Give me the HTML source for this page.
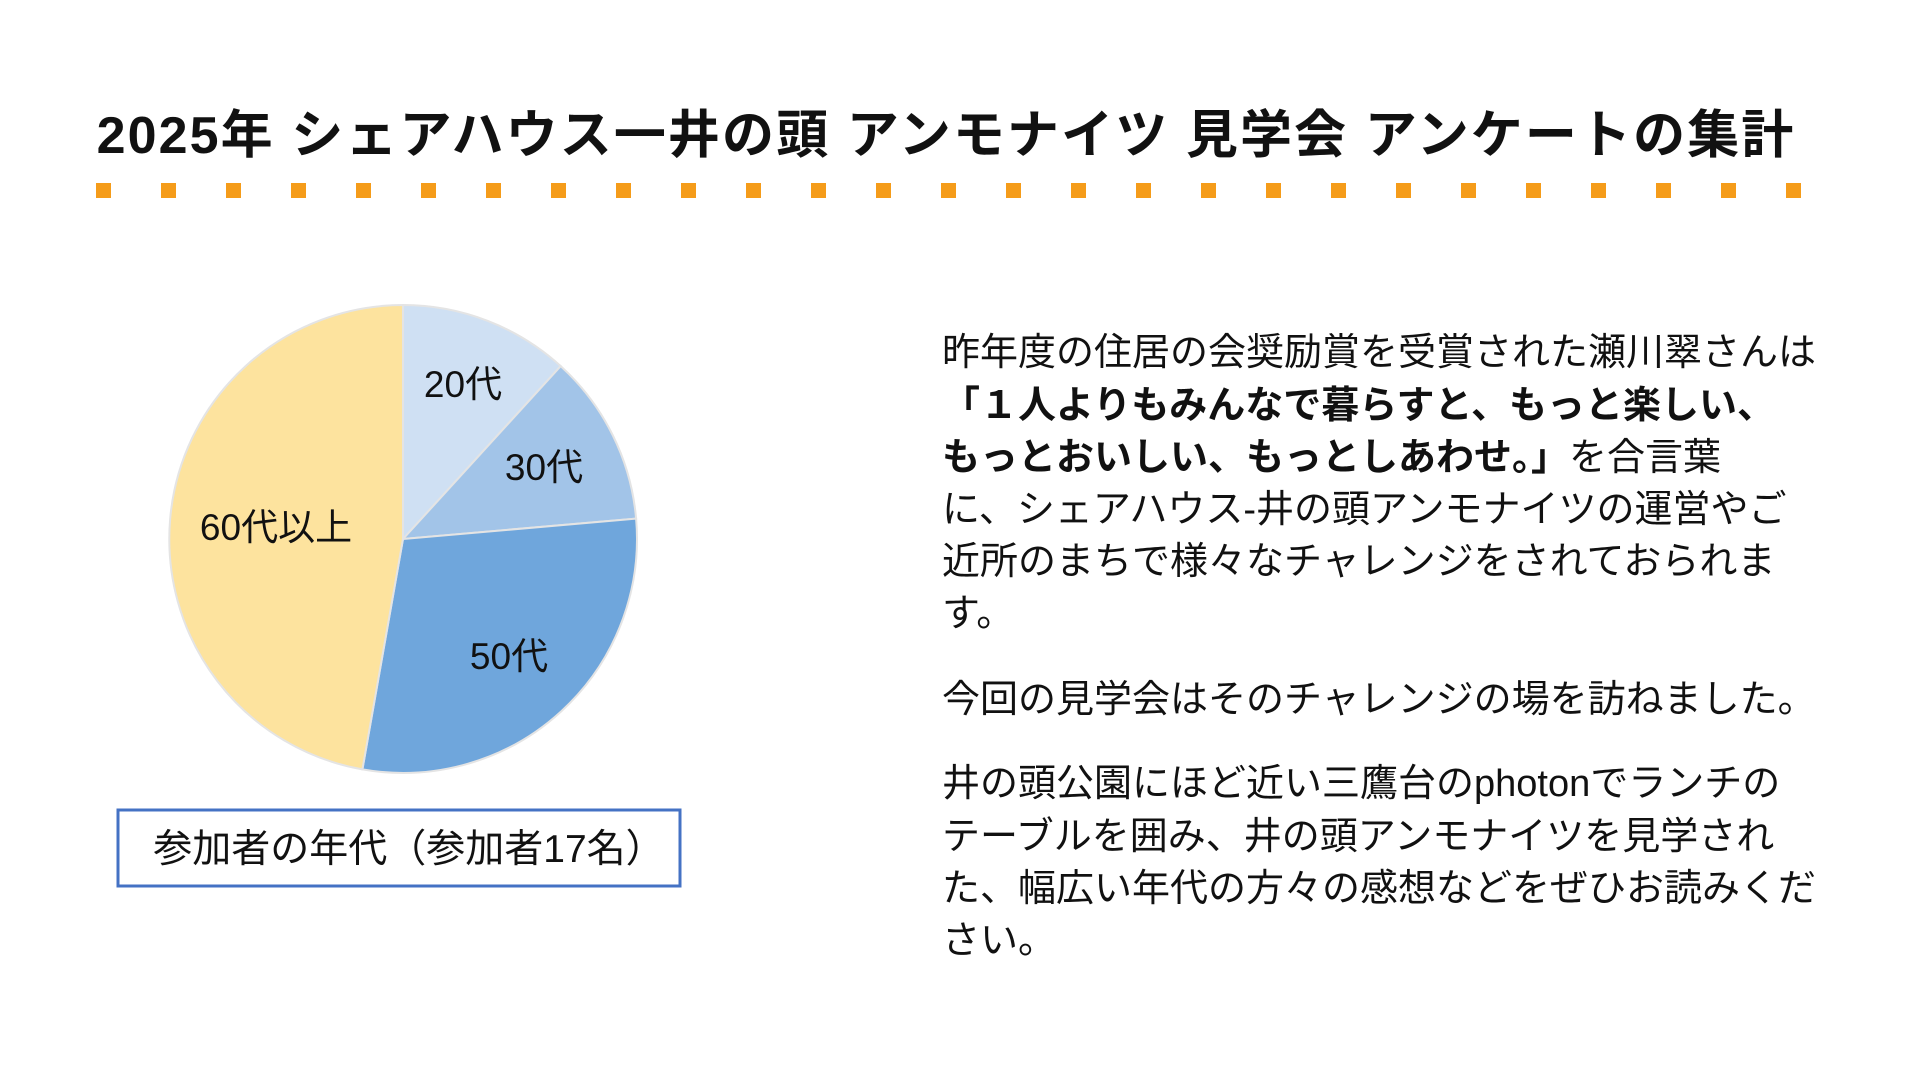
<!DOCTYPE html>
<html><head><meta charset="utf-8"><style>
body{margin:0;width:1924px;height:1070px;background:#fff;position:relative;overflow:hidden;font-family:"Liberation Sans","Noto Sans CJK JP",sans-serif;color:#111}
.t{position:absolute;white-space:nowrap}
.l{position:absolute;left:942px;font-size:38px;line-height:52px;white-space:nowrap}
b{font-weight:700}
</style></head><body>
<div class="t" style="left:-16px;width:1924px;text-align:center;top:104px;font-size:52px;font-weight:700;line-height:64px;letter-spacing:2.1px">2025年 シェアハウス一井の頭 アンモナイツ 見学会 アンケートの集計</div>
<svg width="1924" height="1070" style="position:absolute;left:0;top:0">
<g fill="#f59c1a">
<rect x="96" y="183" width="15" height="15"/><rect x="161" y="183" width="15" height="15"/><rect x="226" y="183" width="15" height="15"/><rect x="291" y="183" width="15" height="15"/><rect x="356" y="183" width="15" height="15"/><rect x="421" y="183" width="15" height="15"/><rect x="486" y="183" width="15" height="15"/><rect x="551" y="183" width="15" height="15"/><rect x="616" y="183" width="15" height="15"/><rect x="681" y="183" width="15" height="15"/><rect x="746" y="183" width="15" height="15"/><rect x="811" y="183" width="15" height="15"/><rect x="876" y="183" width="15" height="15"/><rect x="941" y="183" width="15" height="15"/><rect x="1006" y="183" width="15" height="15"/><rect x="1071" y="183" width="15" height="15"/><rect x="1136" y="183" width="15" height="15"/><rect x="1201" y="183" width="15" height="15"/><rect x="1266" y="183" width="15" height="15"/><rect x="1331" y="183" width="15" height="15"/><rect x="1396" y="183" width="15" height="15"/><rect x="1461" y="183" width="15" height="15"/><rect x="1526" y="183" width="15" height="15"/><rect x="1591" y="183" width="15" height="15"/><rect x="1656" y="183" width="15" height="15"/><rect x="1721" y="183" width="15" height="15"/><rect x="1786" y="183" width="15" height="15"/>
</g>
<g stroke="#e4e4e4" stroke-width="2">
<path d="M403,539 L403,305 A234,234 0 0 1 560.7,366.1 Z" fill="#cfe0f3"/>
<path d="M403,539 L560.7,366.1 A234,234 0 0 1 636.1,518.6 Z" fill="#a2c4e8"/>
<path d="M403,539 L636.1,518.6 A234,234 0 0 1 362.4,769.4 Z" fill="#6fa6dc"/>
<path d="M403,539 L362.4,769.4 A234,234 0 0 1 403,305 Z" fill="#fde39e"/>
</g>
<g font-size="37" text-anchor="middle" fill="#111" font-family="Liberation Sans, Noto Sans CJK JP, sans-serif">
<text x="463" y="397">20代</text>
<text x="544" y="480">30代</text>
<text x="276" y="540">60代以上</text>
<text x="509" y="669">50代</text>
</g>
<rect x="118" y="810" width="562" height="76" fill="none" stroke="#4472c4" stroke-width="3"/>
<text x="409" y="862" font-size="39" text-anchor="middle" fill="#111" font-family="Liberation Sans, Noto Sans CJK JP, sans-serif">参加者の年代（参加者17名）</text>
</svg>
<div class="l" style="top:327px">昨年度の住居の会奨励賞を受賞された瀬川翠さんは</div>
<div class="l" style="top:380px"><b>「１人よりもみんなで暮らすと、もっと楽しい、</b></div>
<div class="l" style="top:432px"><b>もっとおいしい、もっとしあわせ。」</b>を合言葉</div>
<div class="l" style="top:484px">に、シェアハウス-井の頭アンモナイツの運営やご</div>
<div class="l" style="top:536px">近所のまちで様々なチャレンジをされておられま</div>
<div class="l" style="top:588px">す。</div>
<div class="l" style="top:674px">今回の見学会はそのチャレンジの場を訪ねました。</div>
<div class="l" style="top:758px">井の頭公園にほど近い三鷹台のphotonでランチの</div>
<div class="l" style="top:811px">テーブルを囲み、井の頭アンモナイツを見学され</div>
<div class="l" style="top:863px">た、幅広い年代の方々の感想などをぜひお読みくだ</div>
<div class="l" style="top:915px">さい。</div>
</body></html>
